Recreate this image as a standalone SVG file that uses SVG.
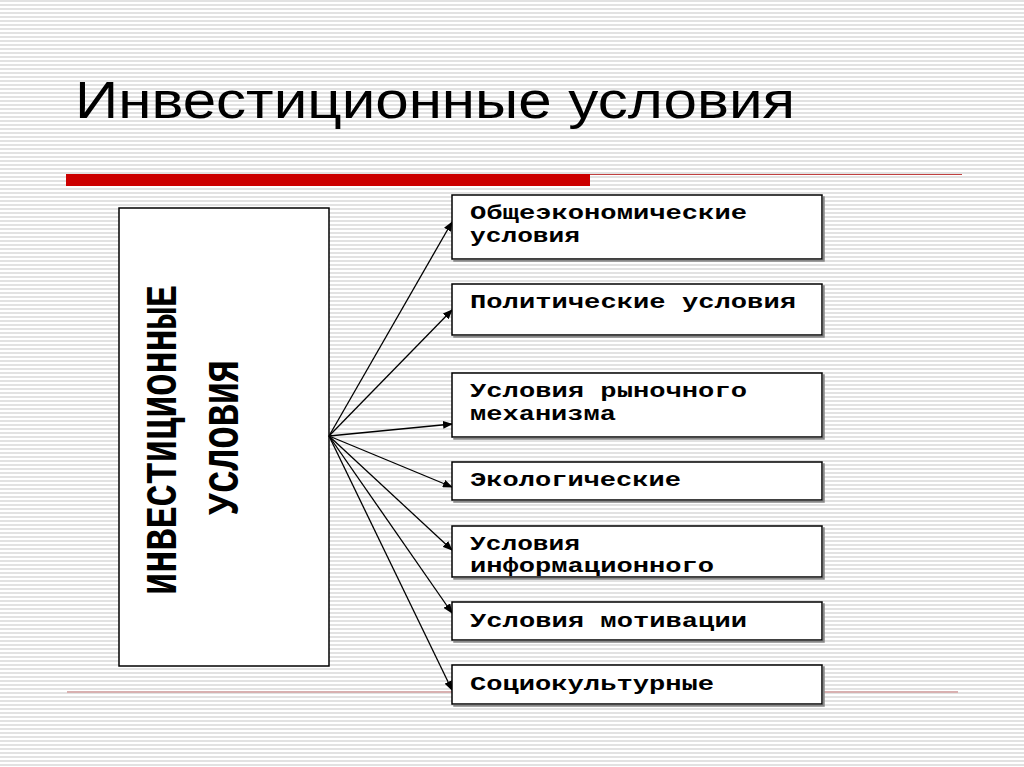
<svg xmlns="http://www.w3.org/2000/svg" width="1024" height="767" viewBox="0 0 1024 767">
<defs>
<pattern id="stripes" width="4" height="4" patternUnits="userSpaceOnUse"><rect width="4" height="4" fill="#ffffff"/><rect y="0" width="4" height="2" fill="#e2e2e2"/></pattern>
<marker id="ah" markerWidth="10" markerHeight="8" refX="9" refY="4" orient="auto" markerUnits="userSpaceOnUse"><path d="M0,0 L10,4 L0,8 z" fill="#000"/></marker>
<filter id="sh" x="-5%" y="-5%" width="110%" height="120%"><feDropShadow dx="2" dy="2" stdDeviation="0.5" flood-color="#888"/></filter>
</defs>
<style>
.box{fill:#fff;stroke:#000;stroke-width:1.5;filter:url(#sh)}
.lbl{font-family:"Liberation Mono","Courier New",monospace;font-weight:bold;font-size:21px;fill:#000}
.vt{font-family:"Liberation Mono","Courier New",monospace;font-weight:bold;font-size:44px;fill:#000}
.con line{stroke:#000;stroke-width:1.3;marker-end:url(#ah)}
</style>
<rect width="1024" height="767" fill="url(#stripes)"/>
<text x="75" y="118" font-family="Liberation Sans, Arial, sans-serif" font-size="52" textLength="720" lengthAdjust="spacingAndGlyphs">Инвестиционные условия</text>
<rect x="66" y="174" width="524" height="12" fill="#cc0000"/>
<line x1="590" y1="174.5" x2="962" y2="174.5" stroke="#c04040" stroke-width="1.2"/>
<line x1="67" y1="692" x2="958" y2="692" stroke="#d8b0b0" stroke-width="2"/>
<g id="main"><rect x="119" y="208" width="210" height="458" fill="#fff" stroke="#000" stroke-width="1.5"/>
<text class="vt" transform="translate(176,595) rotate(-90)" textLength="310" lengthAdjust="spacingAndGlyphs">ИНВЕСТИЦИОННЫЕ</text>
<text class="vt" transform="translate(238,515) rotate(-90)" textLength="155" lengthAdjust="spacingAndGlyphs">УСЛОВИЯ</text></g>
<g class="con">
<line x1="329" y1="436" x2="452" y2="222"/>
<line x1="329" y1="436" x2="452" y2="310"/>
<line x1="329" y1="436" x2="452" y2="424"/>
<line x1="329" y1="436" x2="452" y2="487"/>
<line x1="329" y1="436" x2="452" y2="550"/>
<line x1="329" y1="436" x2="452" y2="613"/>
<line x1="329" y1="436" x2="452" y2="690"/>
</g>
<g id="n1"><rect class="box" x="452" y="195" width="370" height="64"/><text class="lbl" x="470" y="219" textLength="277" lengthAdjust="spacingAndGlyphs">Общеэкономические</text><text class="lbl" x="470" y="242" textLength="110" lengthAdjust="spacingAndGlyphs">условия</text></g>
<g id="n2"><rect class="box" x="452" y="284" width="370" height="51"/><text class="lbl" x="470" y="308" textLength="326" lengthAdjust="spacingAndGlyphs">Политические условия</text></g>
<g id="n3"><rect class="box" x="452" y="373" width="370" height="64"/><text class="lbl" x="470" y="397" textLength="277" lengthAdjust="spacingAndGlyphs">Условия рыночного</text><text class="lbl" x="470" y="420" textLength="146" lengthAdjust="spacingAndGlyphs">механизма</text></g>
<g id="n4"><rect class="box" x="452" y="462" width="370" height="38"/><text class="lbl" x="470" y="486" textLength="211" lengthAdjust="spacingAndGlyphs">Экологические</text></g>
<g id="n5"><rect class="box" x="452" y="526" width="370" height="51"/><text class="lbl" x="470" y="550" textLength="110" lengthAdjust="spacingAndGlyphs">Условия</text><text class="lbl" x="470" y="572" textLength="244" lengthAdjust="spacingAndGlyphs">информационного</text></g>
<g id="n6"><rect class="box" x="452" y="602" width="370" height="38"/><text class="lbl" x="470" y="627" textLength="277" lengthAdjust="spacingAndGlyphs">Условия мотивации</text></g>
<g id="n7"><rect class="box" x="452" y="665" width="370" height="39"/><text class="lbl" x="470" y="690" textLength="244" lengthAdjust="spacingAndGlyphs">Социокультурные</text></g>
</svg>
